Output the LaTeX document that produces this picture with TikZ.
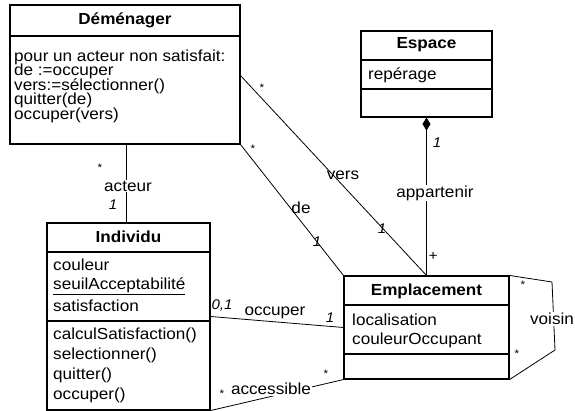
\documentclass[tikz,border=0pt]{standalone}
\usepackage{fontspec}
\setmainfont{Liberation Sans}[FakeStretch=1.07]
\usepackage{tikz}
\usetikzlibrary{arrows.meta}

\newcommand{\opsfont}{\fontsize{16}{14.5}\selectfont\lineskiplimit=-8pt\relax}

\tikzset{
  classbox/.style={draw,rectangle,line width=1.1pt,inner sep=0pt},
  sep/.style={line width=1.1pt},
  attr/.style={anchor=west,inner sep=0pt},
  title/.style={font=\fontsize{16}{18}\selectfont\bfseries,inner sep=0pt},
  mult/.style={font=\fontsize{14}{16}\selectfont\itshape,inner sep=0pt},
  star/.style={font=\fontsize{11}{12}\selectfont,inner sep=0pt},
  role/.style={fill=white,inner sep=1pt},
  assoc/.style={line width=0.8pt}
}

\begin{document}
\begin{tikzpicture}[x=1pt,y=-1pt,font=\fontsize{16}{18}\selectfont]
    \useasboundingbox (0,0) rectangle (575,411);
    % classes
    \node[classbox,minimum width=230pt,minimum height=139pt] (dem) at (125,74.5) {};
    \node[classbox,minimum width=131pt,minimum height=86pt] (esp) at (426.5,74) {};
    \node[classbox,minimum width=163pt,minimum height=187pt] (indiv) at (128.5,316.5) {};
    \node[classbox,minimum width=165pt,minimum height=103pt] (empl) at (426.5,327.5) {};
    \draw[sep] (dem.west |- 0,36) -- (dem.east |- 0,36);
    \draw[sep] (esp.west |- 0,60) -- (esp.east |- 0,60);
    \draw[sep] (esp.west |- 0,89) -- (esp.east |- 0,89);
    \draw[sep] (indiv.west |- 0,252) -- (indiv.east |- 0,252);
    \draw[sep] (indiv.west |- 0,321) -- (indiv.east |- 0,321);
    \draw[sep] (empl.west |- 0,305) -- (empl.east |- 0,305);
    \draw[sep] (empl.west |- 0,354) -- (empl.east |- 0,354);

    \node[title] (demT) at (125,20) {Déménager};
    \node[inner sep=0pt,anchor=north west,align=left,font=\opsfont] (demOps) at (14,49.5)
        {pour un acteur non satisfait:\\de :=occuper\\vers:=sélectionner()\\quitter(de)\\occuper(vers)};

    \node[title] (espT) at (426.5,45) {Espace};
    \node[attr] (esp1) at (368,75) {repérage};

    \node[title] (indivT) at (128.5,237) {Individu};
    \node[attr] (indiv1) at (53,265) {couleur};
    \node[attr] (indiv2) at (53,286) {\underline{seuilAcceptabilité}};
    \node[attr] (indiv3) at (53,306) {satisfaction};
    \node[attr] (indiv4) at (53,335) {calculSatisfaction()};
    \node[attr] (indiv5) at (53,355) {selectionner()};
    \node[attr] (indiv6) at (53,375) {quitter()};
    \node[attr] (indiv7) at (53,395) {occuper()};

    \node[title] (emplT) at (426.5,291) {Emplacement};
    \node[attr] (empl1) at (352,320) {localisation};
    \node[attr] (empl2) at (352,340) {couleurOccupant};

    % associations
    \coordinate (demV) at (240,75);
    \coordinate (demA) at (126,144);
    \coordinate (v1) at (552,282);
    \coordinate (v2) at (555,350);
    \draw[assoc] (demV) -- (empl.north);
    \draw[assoc] (dem.south east) -- (empl.north west);
    \draw[assoc] (demA) -- (demA |- indiv.north);
    \draw[assoc,{Diamond[length=13pt,width=8pt]}-] (esp.south) -- (empl.north);
    \draw[assoc] (indiv.east) -- (empl.west);
    \draw[assoc] (indiv.south east) -- (empl.south west);
    \draw[assoc] (empl.north east) -- (v1) -- (v2) -- (empl.south east);

    \node[role] (acteur) at (128,186) {acteur};
    \node[role] (appart) at (435,193) {appartenir};
    \node[role] (access) at (271,389) {accessible};
    \node[role] (voisin) at (552,319) {voisin};
    \node[inner sep=0pt] (vers) at (343,175) {vers};
    \node[inner sep=0pt] (de) at (301,208) {de};
    \node[inner sep=0pt] (occ) at (275,313) {occuper};

    \node[star] (m1) at (262,88) {*};
    \node[star] (m2) at (253,149) {*};
    \node[mult] (m3) at (317,242) {1};
    \node[mult] (m4) at (382,229) {1};
    \node[star] (m5) at (100,168) {*};
    \node[mult] (m6) at (113,205) {1};
    \node[mult] (m7) at (437,143) {1};
    \node[mult] (m8) at (433,256) {+};
    \node[mult] (m9) at (222,306) {0,1};
    \node[mult] (m10) at (330,318) {1};
    \node[star] (m11) at (326,374) {*};
    \node[star] (m12) at (222,394) {*};
    \node[star] (m13) at (523,285) {*};
    \node[star] (m14) at (517,354) {*};
\end{tikzpicture}
\end{document}
